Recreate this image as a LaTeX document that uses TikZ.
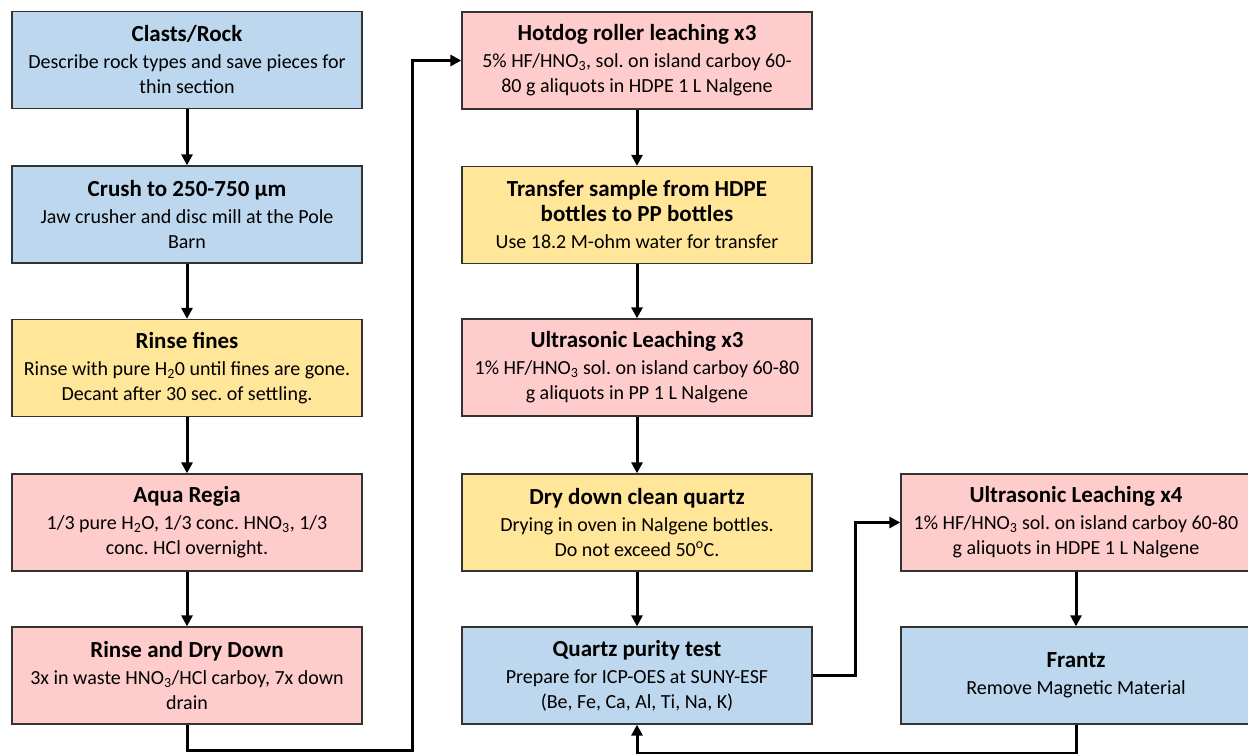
\documentclass[tikz,border=0pt]{standalone}
\usepackage{fontspec}
\setmainfont{Carlito}
\usetikzlibrary{arrows.meta}
\definecolor{bfill}{HTML}{BDD7EE}
\definecolor{yfill}{HTML}{FFE699}
\definecolor{pfill}{HTML}{FFCCCC}
\newcommand{\ttl}[1]{{\fontsize{23}{27}\selectfont\bfseries #1}}
\newcommand{\mysub}[1]{\textsubscript{#1}}
\frenchspacing
\begin{document}
\begin{tikzpicture}[x=1pt,y=-1pt,
  box/.style={draw=black!80, line width=1.3pt, minimum width=350pt, minimum height=97pt,
    align=center, inner sep=0pt, font=\fontsize{20}{25}\selectfont},
  bluebox/.style={box, fill=bfill},
  yellowbox/.style={box, fill=yfill},
  pinkbox/.style={box, fill=pfill},
  conn/.style={line width=3pt, -{Triangle[width=11pt,length=11pt]}}]
\useasboundingbox (0,0) rectangle (1248,753);

% left column
\node[bluebox] (clasts) at (187,60) {\ttl{Clasts/Rock}\\[2pt]Describe rock types and save pieces for\\thin section};
\node[bluebox] (crush) at (187,214.5) {\ttl{Crush to 250-750 µm}\\[2pt]Jaw crusher and disc mill at the Pole\\Barn};
\node[yellowbox] (fines) at (187,368) {\ttl{Rinse fines}\\[2pt]Rinse with pure H\mysub{2}0 until fines are gone.\\Decant after 30 sec. of settling.};
\node[pinkbox] (aqua) at (187,522.5) {\ttl{Aqua Regia}\\[2pt]1/3 pure H\mysub{2}O, 1/3 conc. HNO\mysub{3}, 1/3\\conc. HCl overnight.};
\node[pinkbox] (rdd) at (187,675.5) {\ttl{Rinse and Dry Down}\\[2pt]3x in waste HNO\mysub{3}/HCl carboy, 7x down\\drain};

% middle column
\node[pinkbox] (hotdog) at (637,60.5) {\ttl{Hotdog roller leaching x3}\\[2pt]5\% HF/HNO\mysub{3}, sol. on island carboy 60-\\80 g aliquots in HDPE 1 L Nalgene};
\node[yellowbox] (transfer) at (637,215) {\ttl{Transfer sample from HDPE}\\\ttl{bottles to PP bottles}\\[2pt]Use 18.2 M-ohm water for transfer};
\node[pinkbox] (ultra3) at (637,367.5) {\ttl{Ultrasonic Leaching x3}\\[2pt]1\% HF/HNO\mysub{3} sol. on island carboy 60-80\\g aliquots in PP 1 L Nalgene};
\node[yellowbox] (dry) at (637,522.5) {\ttl{Dry down clean quartz}\\[2pt]Drying in oven in Nalgene bottles.\\Do not exceed 50\textsuperscript{o}C.};
\node[bluebox] (quartz) at (637,675.5) {\ttl{Quartz purity test}\\[2pt]Prepare for ICP-OES at SUNY-ESF\\(Be, Fe, Ca, Al, Ti, Na, K)};

% right column
\node[pinkbox] (ultra4) at (1076,522.5) {\ttl{Ultrasonic Leaching x4}\\[2pt]1\% HF/HNO\mysub{3} sol. on island carboy 60-80\\g aliquots in HDPE 1 L Nalgene};
\node[bluebox] (frantz) at (1076,675.5) {\ttl{Frantz}\\[2pt]Remove Magnetic Material};

% connectors
\draw[conn] (clasts.south) -- (crush.north);
\draw[conn] (crush.south) -- (fines.north);
\draw[conn] (fines.south) -- (aqua.north);
\draw[conn] (aqua.south) -- (rdd.north);
\coordinate (lc) at (412,750);
\draw[conn] (rdd.south) |- (lc) |- (hotdog.west);
\draw[conn] (hotdog.south) -- (transfer.north);
\draw[conn] (transfer.south) -- (ultra3.north);
\draw[conn] (ultra3.south) -- (dry.north);
\draw[conn] (dry.south) -- (quartz.north);
\coordinate (qc) at (855,675.5);
\draw[conn] (quartz.east) -- (qc) |- (ultra4.west);
\draw[conn] (ultra4.south) -- (frantz.north);
\coordinate (fc) at (1076,753);
\draw[conn] (frantz.south) -- (fc) -| (quartz.south);
\end{tikzpicture}
\end{document}
